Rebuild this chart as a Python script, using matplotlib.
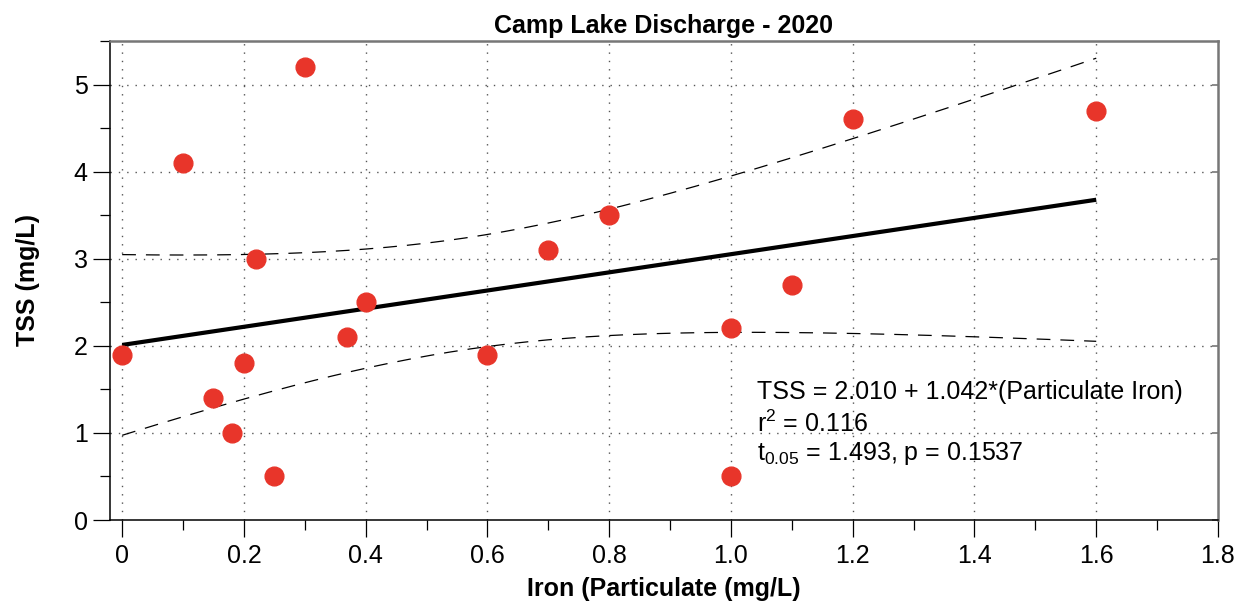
import numpy as np
import matplotlib
matplotlib.use("Agg")
import matplotlib.pyplot as plt
from matplotlib.ticker import MultipleLocator

plt.rcParams['font.family'] = ['Liberation Sans', 'DejaVu Sans']
plt.rcParams['mathtext.fontset'] = 'custom'
plt.rcParams['mathtext.rm'] = 'Liberation Sans'
plt.rcParams['mathtext.default'] = 'regular'

# Data
iron = [0.0, 0.10, 0.15, 0.18, 0.20, 0.22, 0.25, 0.30, 0.37, 0.40,
        0.60, 0.70, 0.80, 1.00, 1.00, 1.10, 1.20, 1.60]
tss = [1.9, 4.1, 1.4, 1.0, 1.8, 3.0, 0.5, 5.2, 2.1, 2.5,
       1.9, 3.1, 3.5, 2.2, 0.5, 2.7, 4.6, 4.7]
intercept = 2.010
slope = 1.042
t_crit = 2.0

title = "Camp Lake Discharge - 2020"
xlabel = "Iron (Particulate (mg/L)"
ylabel = "TSS (mg/L)"
eq_lines = ["TSS = 2.010 + 1.042*(Particulate Iron)",
            "r$^{2}$ = 0.116",
            "t$_{0.05}$ = 1.493, p = 0.1537"]
xticks = [0, 0.2, 0.4, 0.6, 0.8, 1.0, 1.2, 1.4, 1.6, 1.8]
xticklabels = ["0", "0.2", "0.4", "0.6", "0.8", "1.0", "1.2", "1.4", "1.6", "1.8"]
yticks = [0, 1, 2, 3, 4, 5]

x = np.array(iron)
y = np.array(tss)
n = len(x)
xbar = x.mean()
sxx = ((x - xbar) ** 2).sum()
resid = y - (intercept + slope * x)
s = np.sqrt((resid ** 2).sum() / (n - 2))
xf = np.linspace(x.min(), x.max(), 200)
yf = intercept + slope * xf
hw = t_crit * s * np.sqrt(1.0 / n + (xf - xbar) ** 2 / sxx)

W, H = 1245, 606
fig = plt.figure(figsize=(W / 100, H / 100), dpi=100)
ax = fig.add_axes([110 / W, (H - 520) / H, (1218 - 110) / W, (520 - 41) / H])

ax.set_xlim(-0.02, 1.8)
ax.set_ylim(0, 5.5)

grid_kw = dict(color='#555555', lw=1.0, linestyle=(0, (1, 5)), zorder=0)
for xt in xticks[:-1]:
    ax.axvline(xt, **grid_kw)
for yt in yticks[1:]:
    ax.axhline(yt, **grid_kw)

ax.plot(xf, yf, color='black', lw=3.0, zorder=3, solid_capstyle='butt')
ax.plot(xf, yf + hw, color='black', lw=0.9, linestyle=(0, (11, 8)), zorder=3)
ax.plot(xf, yf - hw, color='black', lw=0.9, linestyle=(0, (11, 8)), zorder=3)

ax.plot(x, y, linestyle='none', marker='o', markersize=13.5,
        markerfacecolor='#e8352a', markeredgecolor='#e8352a', zorder=4)

ax.set_xticks(xticks)
ax.set_xticklabels(xticklabels)
ax.set_yticks(yticks)
ax.xaxis.set_minor_locator(MultipleLocator(0.1))
ax.yaxis.set_minor_locator(MultipleLocator(0.5))
ax.tick_params(axis='both', which='major', direction='out', length=12,
               width=0.9, labelsize=18, colors='black')
ax.tick_params(axis='both', which='minor', direction='out', length=7, width=0.9)
ax.tick_params(axis='x', pad=5)
ax.tick_params(axis='y', pad=4)

for side in ['left', 'bottom']:
    ax.spines[side].set_color('black')
    ax.spines[side].set_linewidth(1.1)
for side in ['top', 'right']:
    ax.spines[side].set_color('#777777')
    ax.spines[side].set_linewidth(1.8)

# small inward ticks on the right spine at major y values
ax_r = ax.secondary_yaxis('right')
ax_r.set_yticks(yticks)
ax_r.tick_params(axis='y', which='major', direction='in', length=4, width=1.2,
                 colors='#777777', labelright=False)
ax_r.spines['right'].set_visible(False)

ax.set_title(title, fontsize=18, fontweight='bold', pad=6)
ax.set_xlabel(xlabel, fontsize=18, fontweight='bold', labelpad=7)
ax.set_ylabel(ylabel, fontsize=18, fontweight='bold', labelpad=24)

ys = [1.47, 1.11, 0.76]
for txt, yy in zip(eq_lines, ys):
    ax.text(1.043, yy, txt, fontsize=18, va='center', ha='left', zorder=5)

fig.savefig("out.png", dpi=100)
